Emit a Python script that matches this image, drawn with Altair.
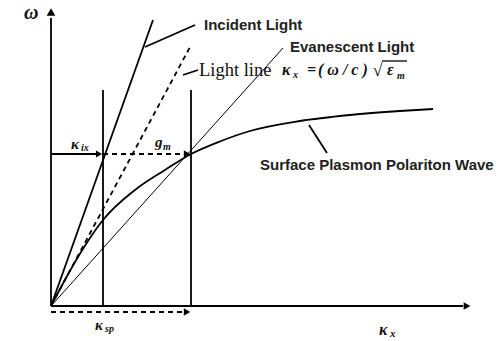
import altair as alt
import pandas as pd

# ---- values (k = wave vector, w = omega, arbitrary units) ----
k_ix = 0.52          # incident-light in-plane wave vector
k_sp = 1.40          # surface plasmon wave vector
w0 = 1.52            # operating frequency
axis_k_end = 4.12
axis_w_end = 2.88
vert_top = 2.16
below_w = -0.06

incident_k = [0.0, 1.02]
incident_w = [0.0, 2.86]
lightline_k = [0.0, 1.39]
lightline_w = [0.0, 2.59]
evan_k = [0.0, 2.32]
evan_w = [0.0, 2.58]
spp_k = [0.0, 0.20, 0.39, 0.52, 0.84, 1.14, 1.40, 1.70, 1.99, 2.49, 2.99, 3.49, 3.82]
spp_w = [0.0, 0.37, 0.68, 0.86, 1.16, 1.36, 1.52, 1.65, 1.75, 1.85, 1.91, 1.95, 1.97]

# leader lines (label pointers)
lead_incident = ([0.94, 1.44], [2.59, 2.81])
lead_lightline = ([1.32, 1.47], [2.31, 2.36])
lead_spp = ([2.58, 2.76], [1.81, 1.53])

def seg(name, ks, ws, style):
    return [dict(id=name, i=i, k=k, w=w, style=style) for i, (k, w) in enumerate(zip(ks, ws))]

rows = []
rows += seg("yaxis", [0, 0], [0, axis_w_end], "thick")
rows += seg("xaxis", [0, axis_k_end], [0, 0], "thick")
rows += seg("incident", incident_k, incident_w, "thick")
rows += seg("v1", [k_ix, k_ix], [0, vert_top], "thick")
rows += seg("v2", [k_sp, k_sp], [0, vert_top], "thick")
rows += seg("arrow_ix", [0, k_ix - 0.06], [w0, w0], "thick")
rows += seg("lead_inc", *lead_incident, "thick")
rows += seg("lead_ll", *lead_lightline, "thick")
rows += seg("lead_spp", *lead_spp, "thick")
rows += seg("evan", evan_k, evan_w, "thin")
rows += seg("lightline", lightline_k, lightline_w, "dash")
rows += seg("arrow_gm", [k_ix, k_sp - 0.06], [w0, w0], "dash")
rows += seg("arrow_sp", [0, k_sp - 0.06], [below_w, below_w], "dash")
lines = pd.DataFrame(rows)
spp = pd.DataFrame({"k": spp_k, "w": spp_w})

heads = pd.DataFrame([
    dict(k=0, w=2.94, shape="triangle-up", s=75),
    dict(k=axis_k_end + 0.04, w=0, shape="triangle-right", s=60),
    dict(k=k_ix - 0.04, w=w0, shape="triangle-right", s=50),
    dict(k=k_sp - 0.04, w=w0, shape="triangle-right", s=55),
    dict(k=k_sp - 0.04, w=below_w, shape="triangle-right", s=55),
])

bold_labels = pd.DataFrame([
    dict(k=1.53, w=2.81, t="Incident Light"),
    dict(k=2.39, w=2.59, t="Evanescent Light"),
    dict(k=2.09, w=1.41, t="Surface Plasmon Polariton Wave"),
])
serif_labels = pd.DataFrame([dict(k=1.48, w=2.36, t="Light line")])

# math symbols: main glyphs and subscripts
sym_main = pd.DataFrame([
    dict(k=-0.27, w=2.93, t="ω", s=20),
    dict(k=0.20, w=1.62, t="κ", s=15),
    dict(k=1.04, w=1.64, t="g", s=15),
    dict(k=0.44, w=-0.19, t="κ", s=15),
    dict(k=3.28, w=-0.24, t="κ", s=16),
    dict(k=2.31, w=2.36, t="κ", s=16),
    dict(k=2.56, w=2.36, t="=", s=16),
    dict(k=2.67, w=2.36, t="( ω  /  c )", s=16),
    dict(k=3.215, w=2.355, t="√", s=18),
    dict(k=3.36, w=2.36, t="ε", s=16),
])
sym_sub = pd.DataFrame([
    dict(k=0.30, w=1.58, t="ix", s=10),
    dict(k=1.12, w=1.59, t="m", s=10),
    dict(k=0.54, w=-0.23, t="sp", s=10),
    dict(k=3.39, w=-0.28, t="x", s=11),
    dict(k=2.42, w=2.31, t="x", s=10),
    dict(k=3.46, w=2.30, t="m", s=10),
])
overline = pd.DataFrame({"k": [3.31], "k2": [3.56], "w": [2.45]})

xs = alt.Scale(domain=[-0.51, 4.51], nice=False, zero=False)
ys = alt.Scale(domain=[-0.35, 3.06], nice=False, zero=False)
X = alt.X("k:Q", scale=xs, axis=None)
Y = alt.Y("w:Q", scale=ys, axis=None)

base_lines = alt.Chart(lines).encode(x=X, y=Y, detail="id:N", order="i:Q")
thick = base_lines.transform_filter(alt.datum.style == "thick").mark_line(color="black", strokeWidth=1.8)
thin = base_lines.transform_filter(alt.datum.style == "thin").mark_line(color="black", strokeWidth=1)
dash = base_lines.transform_filter(alt.datum.style == "dash").mark_line(color="black", strokeWidth=1.8, strokeDash=[5, 4])
spp_line = alt.Chart(spp).mark_line(color="black", strokeWidth=1.8, interpolate="monotone").encode(x=X, y=Y)

head_layer = alt.Chart(heads).mark_point(filled=True, color="black", opacity=1).encode(
    x=X, y=Y, shape=alt.Shape("shape:N", scale=None), size=alt.Size("s:Q", scale=None))

bold_text = alt.Chart(bold_labels).mark_text(
    align="left", baseline="middle", font="Liberation Sans", fontWeight="bold", fontSize=15, color="#222"
).encode(x=X, y=Y, text="t:N")
serif_text = alt.Chart(serif_labels).mark_text(
    align="left", baseline="middle", font="Liberation Serif", fontSize=18.5, color="#111"
).encode(x=X, y=Y, text="t:N")
main_sym = alt.Chart(sym_main).mark_text(
    align="left", baseline="middle", font="Liberation Serif", fontStyle="italic", fontWeight="bold", color="#111"
).encode(x=X, y=Y, text="t:N", size=alt.Size("s:Q", scale=None))
sub_sym = alt.Chart(sym_sub).mark_text(
    align="left", baseline="middle", font="Liberation Serif", fontStyle="italic", fontWeight="bold", color="#111"
).encode(x=X, y=Y, text="t:N", size=alt.Size("s:Q", scale=None))
over = alt.Chart(overline).mark_rule(color="black", strokeWidth=1.3).encode(x=X, x2="k2:Q", y=Y)

chart = alt.layer(thick, thin, dash, spp_line, head_layer, bold_text, serif_text, main_sym, sub_sym, over).properties(
    width=502, height=341, padding=0, autosize=alt.AutoSizeParams(type="none"), background="white"
).configure_view(stroke=None)

chart.save("out.html", embed_options={"renderer": "svg", "actions": False})
